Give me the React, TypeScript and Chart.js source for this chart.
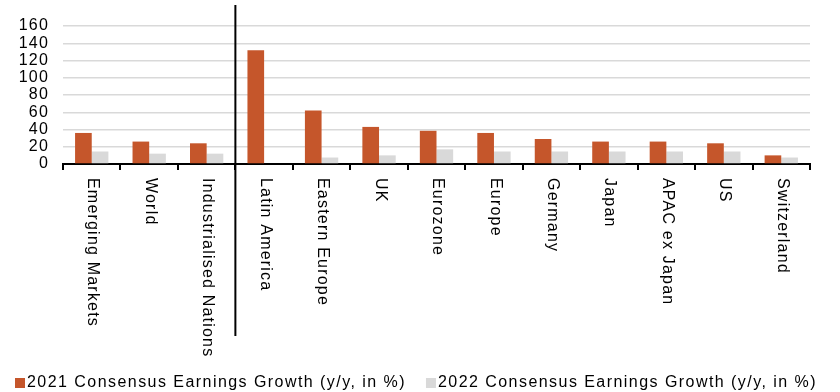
import React, { useEffect, useRef } from 'react';
import { Chart, registerables } from 'chart.js';

Chart.register(...registerables);

const categories = [
  'Emerging Markets',
  'World',
  'Industrialised Nations',
  'Latin America',
  'Eastern Europe',
  'UK',
  'Eurozone',
  'Europe',
  'Germany',
  'Japan',
  'APAC ex Japan',
  'US',
  'Switzerland',
];
const growth2021 = [36, 26, 24, 132, 62, 43, 38.5, 36, 29, 26, 26, 24, 10];
const growth2022 = [14.5, 12, 12, 0, 7.5, 10, 17, 14.5, 14.5, 14.5, 14.5, 14.5, 7.5];
const seriesLabels = [
  '2021 Consensus Earnings Growth (y/y, in %)',
  '2022 Consensus Earnings Growth (y/y, in %)',
];
const seriesColors = ['#C5562B', '#D9D9D9'];
const yTicks = [0, 20, 40, 60, 80, 100, 120, 140, 160];
const dividerAfterIndex = 2;

const FONT = '"Liberation Sans", Arial, sans-serif';
const SPACING = '1.2px';

export default function App() {
  const ref = useRef<HTMLCanvasElement | null>(null);

  useEffect(() => {
    document.body.style.margin = '0';
    const canvas = ref.current!;
    const spacingPlugin = {
      id: 'spacing',
      beforeUpdate(chart: any) {
        chart.ctx.letterSpacing = SPACING;
      },
      beforeDraw(chart: any) {
        chart.ctx.letterSpacing = SPACING;
      },
    };
    const customPlugin = {
      id: 'custom',
      afterDraw(chart: any) {
        const ctx = chart.ctx as CanvasRenderingContext2D;
        const x = chart.scales.x;
        const area = chart.chartArea;
        ctx.save();
        (ctx as any).letterSpacing = SPACING;
        // vertical category labels
        ctx.fillStyle = '#000';
        ctx.font = `16px ${FONT}`;
        ctx.textAlign = 'left';
        ctx.textBaseline = 'middle';
        categories.forEach((c, i) => {
          const px = x.getPixelForValue(i);
          ctx.save();
          ctx.translate(px + 1, area.bottom + 14);
          ctx.rotate(Math.PI / 2);
          ctx.fillText(c, 0, 0);
          ctx.restore();
        });
        // divider
        const dx = (x.getPixelForValue(dividerAfterIndex) + x.getPixelForValue(dividerAfterIndex + 1)) / 2;
        ctx.strokeStyle = '#000';
        ctx.lineWidth = 2;
        ctx.beginPath();
        ctx.moveTo(dx, 5);
        ctx.lineTo(dx, 336);
        ctx.stroke();
        // legend
        (ctx as any).letterSpacing = '1.45px';
        let lx = 15;
        const ly = 383;
        seriesLabels.forEach((lab, i) => {
          ctx.fillStyle = seriesColors[i];
          ctx.fillRect(lx, ly - 5, 10, 10);
          ctx.fillStyle = '#000';
          ctx.fillText(lab, lx + 12, ly);
          lx += 12 + ctx.measureText(lab).width + 20;
        });
        ctx.restore();
      },
    };
    const chart = new Chart(canvas, {
      type: 'bar',
      data: {
        labels: categories,
        datasets: [
          {
            label: seriesLabels[0],
            data: growth2021,
            backgroundColor: seriesColors[0],
            categoryPercentage: 0.58,
            barPercentage: 1,
          },
          {
            label: seriesLabels[1],
            data: growth2022,
            backgroundColor: seriesColors[1],
            categoryPercentage: 0.58,
            barPercentage: 1,
          },
        ],
      },
      options: {
        responsive: false,
        animation: false,
        layout: { padding: { top: 26, right: 30, left: 0, bottom: 0 } },
        plugins: {
          legend: { display: false },
          tooltip: { enabled: false },
        },
        scales: {
          x: {
            ticks: { display: false },
            grid: {
              display: true,
              drawOnChartArea: false,
              drawTicks: true,
              tickLength: 6,
              color: '#000',
              lineWidth: 2,
              offset: true,
            },
            border: { display: true, color: '#000', width: 2 },
            afterFit: (s: any) => {
              s.height = 228;
            },
          },
          y: {
            min: 0,
            max: 160,
            afterBuildTicks: (s: any) => {
              s.ticks = yTicks.map((v) => ({ value: v }));
            },
            ticks: {
              color: '#000',
              font: { size: 16, family: FONT },
              padding: 14,
              autoSkip: false,
            },
            grid: {
              color: '#D9D9D9',
              lineWidth: 1.5,
              drawTicks: false,
            },
            border: { display: false },
            afterFit: (s: any) => {
              s.width = 63;
            },
          },
        },
      },
      plugins: [spacingPlugin, customPlugin],
    });
    return () => chart.destroy();
  }, []);

  return (
    <div style={{ width: 840, height: 392 }}>
      <canvas ref={ref} width={840} height={392} style={{ display: 'block' }} />
    </div>
  );
}
